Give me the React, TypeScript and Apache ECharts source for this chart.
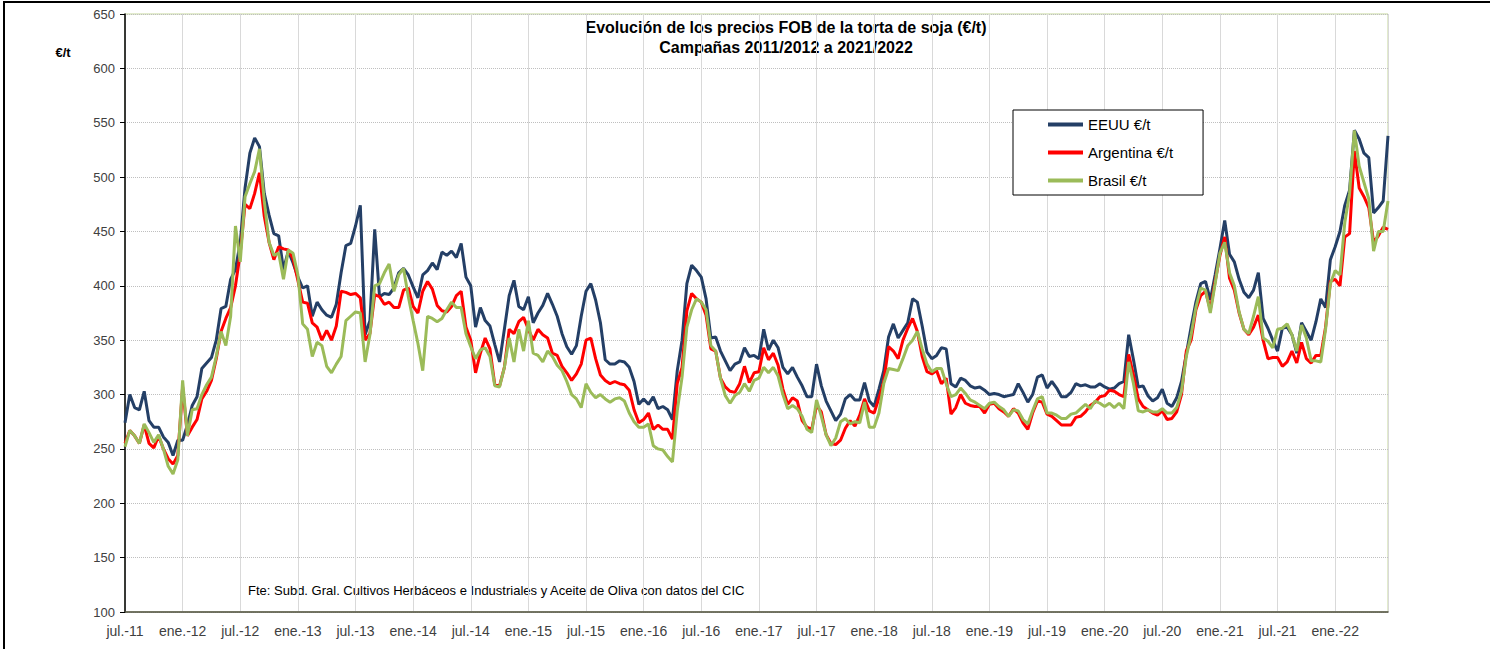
import React, { useEffect, useRef } from "react";
import * as echarts from "echarts";

const xLabels = [
  "jul.-11", "ene.-12", "jul.-12", "ene.-13", "jul.-13", "ene.-14", "jul.-14", "ene.-15",
  "jul.-15", "ene.-16", "jul.-16", "ene.-17", "jul.-17", "ene.-18", "jul.-18", "ene.-19",
  "jul.-19", "ene.-20", "jul.-20", "ene.-21", "jul.-21", "ene.-22",
];

// one value every half month, starting July 2011
const stepMonths = 0.5;

const eeuu = [
  274, 300, 288, 286, 303, 276, 270, 270, 261, 256,
  244, 258, 258, 272, 290, 298, 324, 329, 334, 350,
  379, 381, 406, 415, 440, 490, 522, 536, 528, 485,
  465, 448, 446, 415, 432, 421, 408, 398, 400, 372,
  385, 378, 373, 371, 383, 412, 437, 439, 455, 474,
  355, 368, 452, 390, 393, 392, 398, 412, 416, 410,
  399, 389, 410, 414, 421, 415, 431, 428, 432, 426,
  439, 408, 400, 362, 380, 368, 363, 346, 330, 360,
  391, 405, 381, 378, 390, 366, 375, 382, 393, 383,
  372, 356, 344, 337, 345, 372, 395, 402, 387, 366,
  332, 328, 328, 331, 330, 325, 312, 291, 296, 291,
  298, 287, 289, 286, 277, 322, 350, 402, 419, 414,
  408, 388, 352, 353, 340, 331, 322, 328, 330, 343,
  335, 336, 333, 360, 341, 350, 343, 325, 319, 325,
  316, 308, 298, 298, 328, 308, 294, 285, 276, 282,
  296, 300, 295, 295, 311, 294, 289, 305, 322, 353,
  365, 352, 359, 366, 388, 385, 363, 339, 333, 336,
  343, 342, 310, 307, 315, 313, 308, 306, 307, 304,
  300, 301, 300, 298, 299, 300, 310, 302, 293, 300,
  316, 318, 306, 312, 306, 298, 298, 302, 310, 308,
  309, 307, 307, 310, 307, 305, 306, 310, 312, 355,
  332, 307, 308, 299, 294, 297, 305, 292, 289, 297,
  312, 337, 362, 385, 402, 404, 387, 410, 434, 460,
  429, 422, 406, 394, 389, 396, 412, 370, 361, 350,
  340, 361, 362, 355, 338, 366, 358, 350, 367, 388,
  380, 424, 436, 450, 474, 488, 543, 535, 522, 518,
  467, 472, 478, 538,
];

const argentina = [
  255, 267, 262, 255, 272, 255, 251, 262, 250, 241,
  236, 244, 307, 262, 270, 277, 296, 303, 313, 333,
  358, 370, 380, 400, 430, 475, 471, 485, 504, 464,
  440, 424, 436, 434, 433, 425, 405, 385, 384, 366,
  362, 350, 359, 350, 363, 395, 394, 392, 393, 389,
  350, 356, 392, 390, 383, 385, 380, 380, 396, 398,
  381, 375, 395, 404, 397, 382, 377, 376, 381, 391,
  395, 362, 350, 320, 338, 352, 342, 309, 308, 325,
  360, 356, 367, 371, 360, 350, 360, 355, 352, 338,
  336, 326, 320, 313, 319, 328, 350, 352, 333, 318,
  313, 310, 312, 310, 309, 304, 286, 274, 277, 283,
  268, 272, 268, 268, 259, 310, 325, 377, 393, 388,
  385, 373, 342, 340, 315, 307, 303, 302, 310, 326,
  311, 320, 321, 343, 332, 338, 327, 305, 291, 297,
  294, 276, 270, 268, 290, 284, 263, 255, 254, 258,
  269, 276, 271, 281, 296, 285, 283, 297, 312, 344,
  340, 333, 350, 361, 370, 358, 335, 321, 319, 322,
  310, 315, 282, 288, 300, 292, 290, 289, 289, 283,
  291, 292, 287, 284, 280, 287, 283, 274, 268, 283,
  294, 293, 282, 280, 276, 272, 272, 272, 279, 280,
  284, 290, 293, 298, 299, 304, 303, 300, 298, 337,
  318, 296, 289, 286, 283, 281, 285, 277, 278, 284,
  300, 340, 350, 378, 391, 395, 378, 404, 428, 445,
  407, 396, 375, 360, 355, 362, 373, 350, 333, 334,
  334, 326, 330, 340, 329, 348, 333, 329, 336, 336,
  362, 404, 406, 400, 445, 448, 524, 490, 482, 472,
  440, 446, 454, 452,
];

const brasil = [
  252, 267, 262, 255, 273, 265, 256, 263, 250, 234,
  227, 240, 313, 262, 286, 287, 300, 309, 316, 335,
  358, 345, 372, 455, 422, 482, 494, 505, 526, 478,
  440, 428, 430, 406, 433, 430, 410, 365, 360, 335,
  348, 345, 326, 320, 328, 335, 368, 372, 376, 375,
  330, 355, 400, 402, 412, 420, 395, 410, 416, 390,
  368, 347, 322, 372, 370, 367, 370, 378, 385, 380,
  380, 356, 344, 333, 341, 343, 335, 308, 307, 325,
  352, 330, 360, 340, 368, 338, 336, 330, 340, 335,
  327, 322, 312, 300, 296, 288, 310, 302, 297, 300,
  296, 293, 296, 297, 294, 283, 275, 270, 270, 273,
  253, 250, 249, 243, 238, 285, 316, 362, 378, 388,
  385, 378, 345, 340, 315, 299, 292, 299, 302, 310,
  303, 313, 315, 325, 320, 325, 317, 300, 287, 290,
  287, 280, 268, 265, 295, 280, 263, 253, 260, 275,
  278, 273, 275, 274, 293, 270, 270, 283, 310, 324,
  323, 322, 333, 345, 350, 358, 342, 328, 321, 324,
  324, 310, 298, 300, 306, 301, 295, 293, 290, 287,
  292, 293, 289, 286, 280, 286, 285, 277, 273, 285,
  296, 298, 283, 283, 281, 278, 278, 282, 283, 287,
  291, 287, 294, 292, 289, 292, 288, 292, 287, 330,
  310, 285, 284, 286, 284, 284, 287, 283, 283, 288,
  303, 335, 355, 380, 398, 396, 375, 402, 430, 440,
  412, 400, 376, 360, 356, 372, 390, 352, 349, 343,
  360, 361, 365, 355, 340, 364, 352, 331, 331, 330,
  360, 402, 414, 410, 458, 485, 543, 510, 495, 480,
  432, 450, 450, 478,
];

const seriesNames = ["EEUU €/t", "Argentina €/t", "Brasil €/t"];
const seriesColors = ["#243f66", "#ff0000", "#9bbb59"];

const FONT = "'Liberation Sans', Arial, sans-serif";

export default function App() {
  const ref = useRef<HTMLDivElement>(null);

  useEffect(() => {
    document.body.style.margin = "0";
    const chart = echarts.init(ref.current!, null, { renderer: "svg" });
    const toPairs = (arr: number[]) => arr.map((v, i) => [i * stepMonths, v]);
    const lastX = (eeuu.length - 1) * stepMonths;

    chart.setOption({
      animation: false,
      backgroundColor: "#ffffff",
      textStyle: { fontFamily: FONT },
      grid: {
        left: 125,
        right: 102,
        top: 14,
        bottom: 37,
        show: true,
        borderColor: "#c4d79b",
        borderWidth: 1,
      },
      legend: {
        orient: "vertical",
        left: 1013,
        top: 110,
        data: seriesNames,
        icon: "rect",
        itemWidth: 35,
        itemHeight: 4,
        itemGap: 13,
        backgroundColor: "#ffffff",
        borderColor: "#000000",
        borderWidth: 1,
        padding: [7, 30, 7, 35],
        textStyle: { fontSize: 15, color: "#000000", fontFamily: FONT },
      },
      xAxis: {
        type: "value",
        min: 0,
        max: lastX,
        interval: 6,
        axisLine: { show: true, lineStyle: { color: "#4f4f3f", width: 1.5 } },
        axisTick: { show: false },
        axisLabel: {
          color: "#404040",
          fontSize: 14,
          margin: 12,
          showMaxLabel: false,
          fontFamily: FONT,
          formatter: (v: number) => {
            if (Math.abs(v % 6) > 1e-6) return "";
            const idx = Math.round(v / 6);
            return xLabels[idx] ?? "";
          },
        },
        splitLine: { show: true, lineStyle: { color: "#d9d9d9", width: 1 } },
      },
      yAxis: {
        type: "value",
        min: 100,
        max: 650,
        interval: 50,
        axisLine: { show: true, lineStyle: { color: "#000000", width: 1.5 } },
        axisTick: { show: true, length: 5, lineStyle: { color: "#000000" } },
        axisLabel: { color: "#404040", fontSize: 13, margin: 10, fontFamily: FONT },
        splitLine: { show: true, lineStyle: { color: "#bfbfbf", type: "dotted", width: 1 } },
      },
      series: [eeuu, argentina, brasil].map((arr, k) => ({
        name: seriesNames[k],
        type: "line",
        data: toPairs(arr),
        showSymbol: false,
        symbol: "none",
        color: seriesColors[k],
        lineStyle: { color: seriesColors[k], width: 3 },
        z: 2 + k,
      })),
      graphic: [
        {
          type: "rect",
          shape: { x: 4, y: 2, width: 1600, height: 800 },
          style: { fill: "none", stroke: "#000000", lineWidth: 2 },
          silent: true,
          z: 100,
        },
        {
          type: "text",
          x: 786,
          y: 27,
          style: {
            text: "Evolución de los precios FOB de la torta de soja (€/t)",
            font: `bold 16px ${FONT}`,
            fill: "#000000",
            textAlign: "center",
            textVerticalAlign: "middle",
          },
        },
        {
          type: "text",
          x: 786,
          y: 47,
          style: {
            text: "Campañas 2011/2012 a 2021/2022",
            font: `bold 16px ${FONT}`,
            fill: "#000000",
            textAlign: "center",
            textVerticalAlign: "middle",
          },
        },
        {
          type: "text",
          x: 63,
          y: 52,
          style: {
            text: "€/t",
            font: `bold 13px ${FONT}`,
            fill: "#000000",
            textAlign: "center",
            textVerticalAlign: "middle",
          },
        },
        {
          type: "text",
          x: 248,
          y: 590,
          style: {
            text: "Fte: Subd. Gral. Cultivos Herbáceos e Industriales y Aceite de Oliva con datos del CIC",
            font: `13px ${FONT}`,
            fill: "#000000",
            textAlign: "left",
            textVerticalAlign: "middle",
          },
        },
      ],
    });

    return () => chart.dispose();
  }, []);

  return <div ref={ref} style={{ width: 1490, height: 649 }} />;
}
